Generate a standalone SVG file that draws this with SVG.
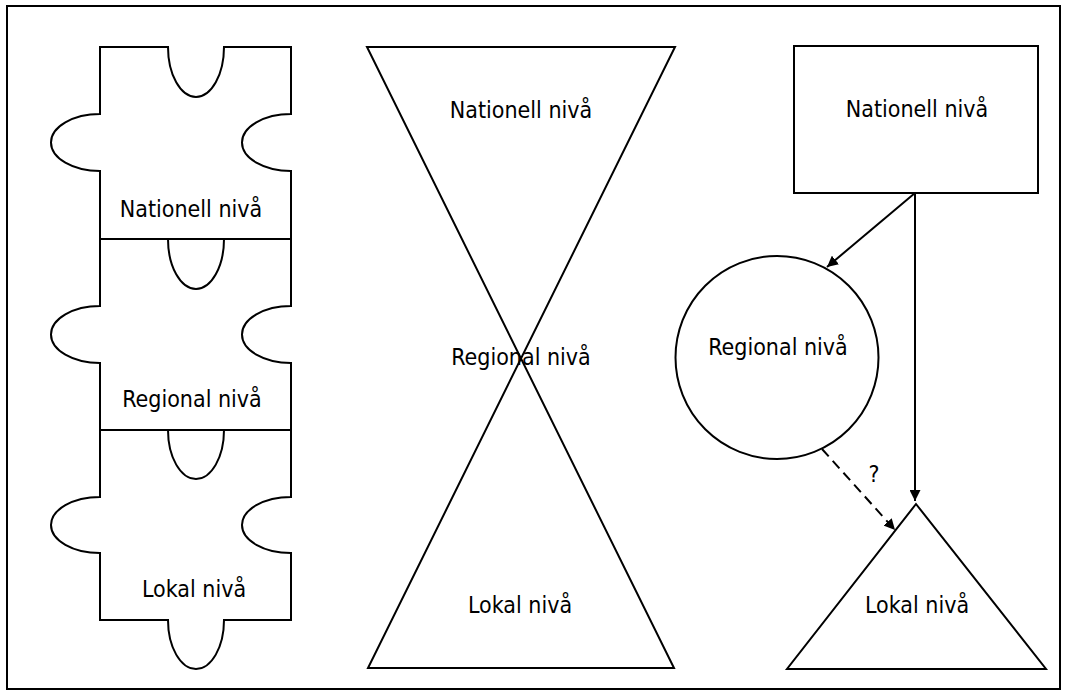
<svg xmlns="http://www.w3.org/2000/svg" width="1068" height="697" viewBox="0 0 1068 697">
  <defs>
    <style>
      .shape { fill: #ffffff; stroke: #000000; stroke-width: 2; stroke-linejoin: miter; }
      .frame { fill: #ffffff; stroke: #000000; stroke-width: 2; }
      .label { font-family: "DejaVu Sans Condensed", "DejaVu Sans", sans-serif; font-stretch: condensed; font-size: 23px; fill: #000000; text-anchor: middle; }
      .link { fill: none; stroke: #000000; stroke-width: 2; }
      .dashed { stroke-dasharray: 10 6; }
    </style>
    <marker id="arrow" viewBox="0 0 10 10" refX="10" refY="5" markerWidth="11" markerHeight="11" markerUnits="userSpaceOnUse" orient="auto">
      <path d="M0,0 L10,5 L0,10 Z" fill="#000000"/>
    </marker>
  </defs>

  <!-- page frame -->
  <rect class="frame" x="7" y="6" width="1053" height="683"/>

  <!-- puzzle column -->
  <g id="puzzle-nationell">
    <path class="shape" d="M100,47 H168 A28,50 0 0 0 224,47 H291 V114 A49,28.5 0 0 0 291,171 V239 H100 V171 A49,28.5 0 0 1 100,114 Z"/>
    <text class="label" x="191" y="217">Nationell nivå</text>
  </g>
  <g id="puzzle-regional">
    <path class="shape" d="M100,239 H168 A28,50 0 0 0 224,239 H291 V306 A49,28.5 0 0 0 291,363 V430 H100 V363 A49,28.5 0 0 1 100,306 Z"/>
    <text class="label" x="192" y="407">Regional nivå</text>
  </g>
  <g id="puzzle-lokal">
    <path class="shape" d="M100,430 H168 A28,49 0 0 0 224,430 H291 V497 A49,28 0 0 0 291,553 V620 H224 A28,49 0 0 1 168,620 H100 V553 A49,28 0 0 1 100,497 Z"/>
    <text class="label" x="194" y="597">Lokal nivå</text>
  </g>

  <!-- hourglass column -->
  <g id="hourglass">
    <path class="shape" d="M367,47 H675 L368,668 H674 Z"/>
    <text class="label" x="521" y="118">Nationell nivå</text>
    <text class="label" x="521" y="365">Regional nivå</text>
    <text class="label" x="520" y="613">Lokal nivå</text>
  </g>

  <!-- hierarchy column -->
  <g id="node-nationell">
    <rect class="shape" x="794" y="46" width="244" height="147"/>
    <text class="label" x="917" y="117">Nationell nivå</text>
  </g>
  <g id="node-regional">
    <circle class="shape" cx="777" cy="357.5" r="101.5"/>
    <text class="label" x="778" y="355">Regional nivå</text>
  </g>
  <g id="node-lokal">
    <path class="shape" d="M916,504 L1046,669 H787 Z"/>
    <text class="label" x="917" y="613">Lokal nivå</text>
  </g>

  <g id="connectors">
    <line class="link" x1="915" y1="193" x2="827" y2="267" marker-end="url(#arrow)"/>
    <line class="link" x1="915" y1="193" x2="915" y2="501" marker-end="url(#arrow)"/>
    <line class="link dashed" x1="822" y1="449" x2="895" y2="530" marker-end="url(#arrow)"/>
    <text class="label" x="874" y="482">?</text>
  </g>
</svg>
